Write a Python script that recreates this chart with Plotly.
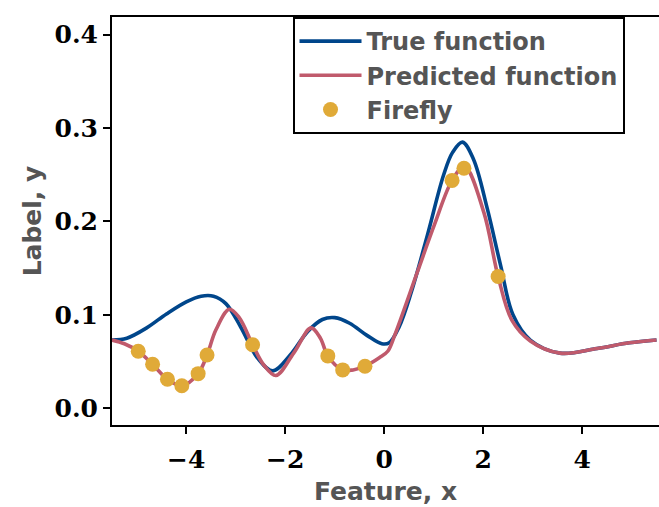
import plotly.graph_objects as go

# True function samples
true_x = [-5.5, -5.2, -4.8, -4.4, -4.0, -3.7, -3.45, -3.2, -2.9, -2.55, -2.25, -1.9, -1.55,
          -1.25, -1.0, -0.7, -0.35, -0.05, 0.1, 0.3, 0.55, 0.87, 1.2, 1.38, 1.58, 1.8,
          2.08, 2.35, 2.6, 2.95, 3.55, 4.3, 4.95, 5.5]
true_y = [0.073, 0.075, 0.086, 0.101, 0.114, 0.120, 0.120, 0.112, 0.087, 0.053, 0.040, 0.057, 0.082,
          0.095, 0.097, 0.091, 0.078, 0.069, 0.070, 0.087, 0.125, 0.185, 0.250, 0.274, 0.285, 0.267,
          0.214, 0.153, 0.100, 0.073, 0.059, 0.064, 0.070, 0.073]

# Predicted function samples
pred_x = [-5.5, -5.25, -4.97, -4.68, -4.38, -4.09, -3.76, -3.58, -3.4, -3.13, -2.93, -2.66,
          -2.43, -2.19, -1.83, -1.48, -1.29, -1.14, -0.84, -0.63, -0.39, -0.1, 0.07, 0.21,
          0.67, 1.01, 1.37, 1.62, 2.01, 2.30, 2.58, 2.95, 3.55, 4.3, 4.95, 5.5]
pred_y = [0.073, 0.069, 0.061, 0.047, 0.031, 0.024, 0.037, 0.057, 0.084, 0.106, 0.097, 0.068,
          0.046, 0.035, 0.059, 0.086, 0.075, 0.056, 0.041, 0.041, 0.045, 0.054, 0.061, 0.078,
          0.146, 0.196, 0.244, 0.259, 0.210, 0.141, 0.094, 0.072, 0.059, 0.064, 0.070, 0.073]

# Firefly positions
fly_x = [-4.97, -4.68, -4.38, -4.09, -3.76, -3.58, -2.66, -1.14, -0.84, -0.39, 1.37, 1.61, 2.30]
fly_y = [0.061, 0.047, 0.031, 0.024, 0.037, 0.057, 0.068, 0.056, 0.041, 0.045, 0.244, 0.257, 0.141]

x_ticks = [-4, -2, 0, 2, 4]
x_tick_text = ["\u22124", "\u22122", "0", "2", "4"]
y_ticks = [0.0, 0.1, 0.2, 0.3, 0.4]

BLUE = "#00468b"
RED = "#c05a6c"
GOLD = "#e0aa38"
GRAY = "#555555"
LABEL_FONT = "DejaVu Sans"
TICK_FONT = "DejaVu Serif"

fig = go.Figure()
fig.add_trace(go.Scatter(x=true_x, y=true_y, mode="lines", name="True function",
                         line=dict(color=BLUE, width=3.6, shape="spline", smoothing=1.0)))
fig.add_trace(go.Scatter(x=pred_x, y=pred_y, mode="lines", name="Predicted function",
                         line=dict(color=RED, width=3.6, shape="spline", smoothing=1.0)))
fig.add_trace(go.Scatter(x=fly_x, y=fly_y, mode="markers", name="Firefly",
                         marker=dict(color=GOLD, size=15, line=dict(width=0))))

fig.update_layout(
    width=659, height=507,
    margin=dict(l=112, r=0, t=17, b=82),
    plot_bgcolor="white", paper_bgcolor="white",
    showlegend=True,
    legend=dict(x=0.33, y=1.0, xanchor="left", yanchor="top",
                bordercolor="black", borderwidth=2, bgcolor="white",
                font=dict(family=LABEL_FONT, size=24, color=GRAY, weight="bold"),
                tracegroupgap=0, itemwidth=62),
)
fig.update_xaxes(
    range=[-5.5, 5.55], showgrid=False, zeroline=False,
    showline=True, linecolor="black", linewidth=2, mirror=True,
    ticks="outside", ticklen=7, tickwidth=1.5, tickcolor="black",
    tickvals=x_ticks, ticktext=x_tick_text, ticklabelstandoff=4,
    tickfont=dict(family=TICK_FONT, size=25, color="black", weight="bold"),
    title=dict(text="Feature, x", standoff=9,
               font=dict(family=LABEL_FONT, size=25, color=GRAY, weight="bold")),
)
fig.update_yaxes(
    range=[-0.018, 0.419], showgrid=False, zeroline=False,
    showline=True, linecolor="black", linewidth=2, mirror=False,
    ticks="outside", ticklen=7, tickwidth=1.5, tickcolor="black",
    tickvals=y_ticks, tickformat=".1f",
    tickfont=dict(family=TICK_FONT, size=25, color="black", weight="bold"),
    title=dict(text="Label, y", standoff=6,
               font=dict(family=LABEL_FONT, size=25, color=GRAY, weight="bold")),
)

fig.write_html("out.html")
